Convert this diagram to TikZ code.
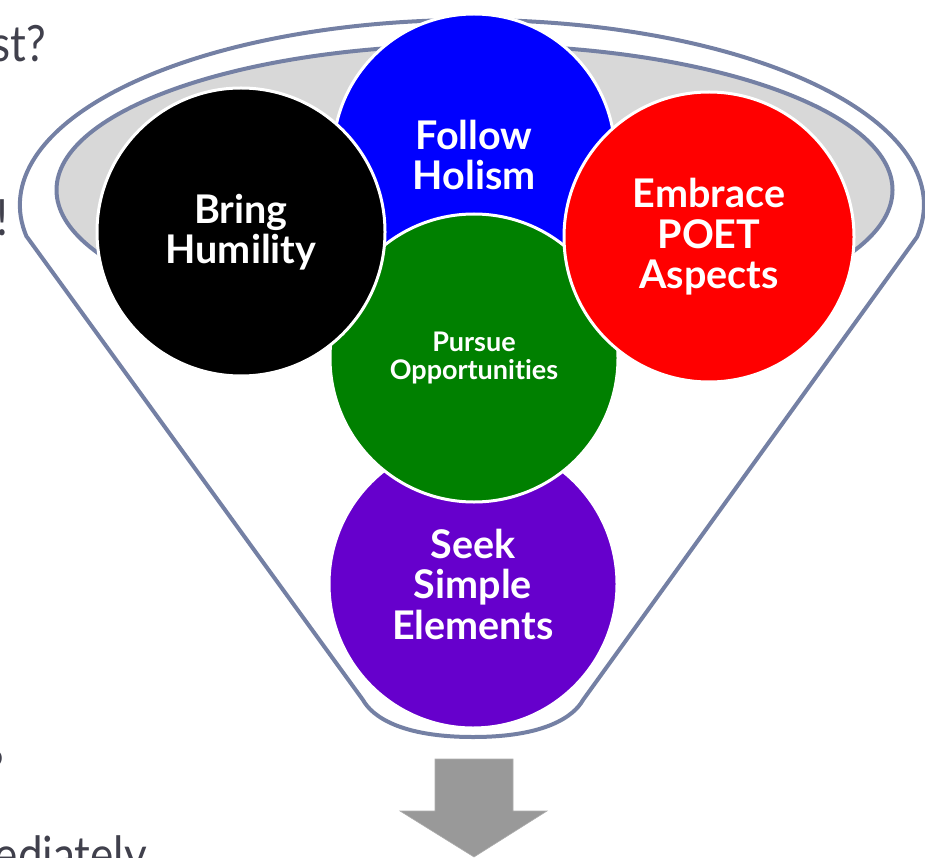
\documentclass[tikz,border=0pt]{standalone}
\usepackage{fontspec}
\setmainfont{Lato}[Ligatures=NoCommon]
\definecolor{funnelline}{RGB}{116,128,164}
\definecolor{funnelgray}{RGB}{216,216,216}
\definecolor{cblue}{RGB}{0,0,255}
\definecolor{cred}{RGB}{255,0,0}
\definecolor{cgreen}{RGB}{0,128,0}
\definecolor{cpurple}{RGB}{102,0,204}
\definecolor{arrowgray}{RGB}{153,153,153}
\definecolor{slidetext}{RGB}{64,64,76}
\tikzset{
  funnelstroke/.style={draw=funnelline, line width=4pt, line join=round},
  ball/.style={circle, draw=white, line width=3pt, minimum size=#1, inner sep=0pt,
    text=white, font=\bfseries\fontsize{39.5}{40.5}\selectfont, align=center},
  smallball/.style={ball=#1, font=\bfseries\fontsize{27}{28.5}\selectfont},
  slidefont/.style={text=slidetext, font=\fontsize{50}{60}\selectfont, inner sep=0pt, xscale=0.88}
}
\begin{document}
\begin{tikzpicture}[x=1pt,y=1pt]
\useasboundingbox (0,0) rectangle (925,-858);
\clip (0,0) rectangle (925,-858);
% background slide text fragments
\node[slidefont, anchor=base east] (t1) at (46,-62) {st?};
\node[slidefont, anchor=base east] (t2) at (9,-236) {!};
\node[slidefont, anchor=base east] (t3) at (4,-786) {?};
\node[slidefont, anchor=base east] (t4) at (147,-872) {ediately};
% funnel
\draw[funnelstroke, fill=white] (27,-237) -- (363,-700)
  .. controls (372,-716) and (400,-737) .. (473,-737)
  .. controls (546,-737) and (574,-716) .. (583,-700)
  -- (917,-237) arc[start angle=-10, end angle=190, x radius=452, y radius=185] -- cycle;
\draw[funnelstroke, fill=funnelgray] (474.5,-190) ellipse [x radius=418, y radius=145];
% circles
\node[ball=282pt, fill=cblue] (holism) at (474,-155) {Follow\\Holism};
\node[ball=288pt, fill=cpurple] (simple) at (473,-584) {Seek\\Simple\\Elements};
\node[smallball=288pt, fill=cgreen] (opps) at (474,-358) {Pursue\\Opportunities};
\node[ball=288pt, fill=black] (humility) at (241,-232) {Bring\\Humility};
\node[ball=290pt, fill=cred] (poet) at (709,-237) {Embrace\\POET\\Aspects};
% output arrow
\fill[arrowgray, draw=arrowgray!80!white, line width=0.6pt]
  (435,-759) -- (513,-759) -- (513,-811) -- (547,-811) -- (474,-857)
  -- (400,-811) -- (435,-811) -- cycle;
\end{tikzpicture}
\end{document}
